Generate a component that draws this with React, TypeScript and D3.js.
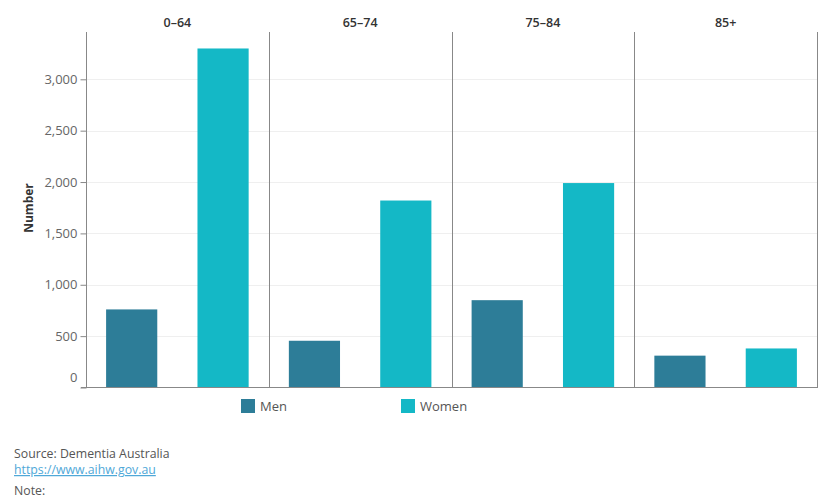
import { useEffect, useRef } from "react";
import * as d3 from "d3";

// Age groups (facet columns) and the two sexes within each
const ageGroups = ["0–64", "65–74", "75–84", "85+"];
const sexes = ["Men", "Women"];
const menValues = [760, 455, 850, 310];
const womenValues = [3300, 1820, 1990, 380];
const yTicks = [0, 500, 1000, 1500, 2000, 2500, 3000];

const colors: Record<string, string> = { Men: "#2d7d98", Women: "#14b8c6" };
const FONT = "'Open Sans', 'Noto Sans', sans-serif";

export default function App() {
    const svgRef = useRef<SVGSVGElement | null>(null);

    useEffect(() => {
        if (!svgRef.current) return;
        const svg = d3.select(svgRef.current);
        svg.selectAll("*").remove();

        const left = 86, right = 817, top = 32, bottom = 387.5;

        const panel = d3.scaleBand<string>().domain(ageGroups).range([left, right]).padding(0);
        const inner = d3.scaleBand<string>()
            .domain(sexes)
            .range([0, panel.bandwidth()])
            .paddingInner(0.44)
            .paddingOuter(0.22);
        const y = d3.scaleLinear().domain([0, 3000]).range([bottom, 79.3]);

        // gridlines
        svg.append("g")
            .selectAll("line")
            .data(yTicks.filter(t => t > 0))
            .join("line")
            .attr("x1", left).attr("x2", right)
            .attr("y1", d => Math.round(y(d)) + 0.5).attr("y2", d => Math.round(y(d)) + 0.5)
            .attr("stroke", "#efefef");

        // y axis
        const yAxis = svg.append("g")
            .attr("transform", `translate(${left + 0.5},0)`)
            .call(d3.axisLeft(y).tickValues(yTicks).tickSize(6).tickFormat(d3.format(",")));
        yAxis.select(".domain").remove();
        yAxis.selectAll(".tick line").attr("stroke", "#888");
        yAxis.selectAll(".tick text")
            .attr("font-family", FONT).attr("font-size", 13).attr("fill", "#666")
            .attr("x", -9)
            .attr("dy", (d: any) => (d === 0 ? "-0.45em" : "0.32em"));

        svg.append("text")
            .attr("transform", `translate(33,208) rotate(-90)`)
            .attr("text-anchor", "middle")
            .attr("font-family", FONT).attr("font-size", 12).attr("font-weight", 700)
            .attr("fill", "#333")
            .text("Number");

        const data = ageGroups.flatMap((g, i) => [
            { group: g, sex: "Men", value: menValues[i] },
            { group: g, sex: "Women", value: womenValues[i] },
        ]);

        svg.append("g")
            .selectAll("rect")
            .data(data)
            .join("rect")
            .attr("x", d => (panel(d.group) as number) + (inner(d.sex) as number))
            .attr("width", inner.bandwidth())
            .attr("y", d => y(d.value))
            .attr("height", d => bottom - y(d.value))
            .attr("fill", d => colors[d.sex]);

        // panel separators
        svg.append("g")
            .selectAll("line")
            .data([...ageGroups.map(g => panel(g) as number), right])
            .join("line")
            .attr("x1", d => Math.round(d) + 0.5).attr("x2", d => Math.round(d) + 0.5)
            .attr("y1", top).attr("y2", bottom)
            .attr("stroke", "#888");

        // baseline
        svg.append("line")
            .attr("x1", left - 5).attr("x2", right + 1)
            .attr("y1", bottom).attr("y2", bottom)
            .attr("stroke", "#888");

        // facet headers
        svg.append("g")
            .selectAll("text")
            .data(ageGroups)
            .join("text")
            .attr("x", d => (panel(d) as number) + panel.bandwidth() / 2)
            .attr("y", 27)
            .attr("text-anchor", "middle")
            .attr("font-family", FONT).attr("font-size", 12.5).attr("font-weight", 600)
            .attr("fill", "#333")
            .text(d => d);

        // legend
        const legend = svg.append("g")
            .selectAll("g")
            .data(sexes)
            .join("g")
            .attr("transform", (_, i) => `translate(${241 + i * 160},399)`);
        legend.append("rect").attr("width", 14).attr("height", 14).attr("fill", d => colors[d]);
        legend.append("text")
            .attr("x", 19).attr("y", 12)
            .attr("font-family", FONT).attr("font-size", 13).attr("fill", "#555")
            .text(d => d);

        // source + note
        const foot = svg.append("g").attr("font-family", FONT).attr("font-size", 12.3);
        foot.append("text").attr("x", 14).attr("y", 458).attr("fill", "#555").text("Source: Dementia Australia");
        foot.append("text").attr("x", 14).attr("y", 474).attr("fill", "#4fa8d8")
            .attr("text-decoration", "underline").text("https://www.aihw.gov.au");
        foot.append("text").attr("x", 14).attr("y", 495).attr("fill", "#555").text("Note:");
    }, []);

    return (
        <svg
            ref={svgRef}
            width={830}
            height={500}
            style={{ position: "absolute", left: 0, top: 0, background: "#fff" }}
        />
    );
}
